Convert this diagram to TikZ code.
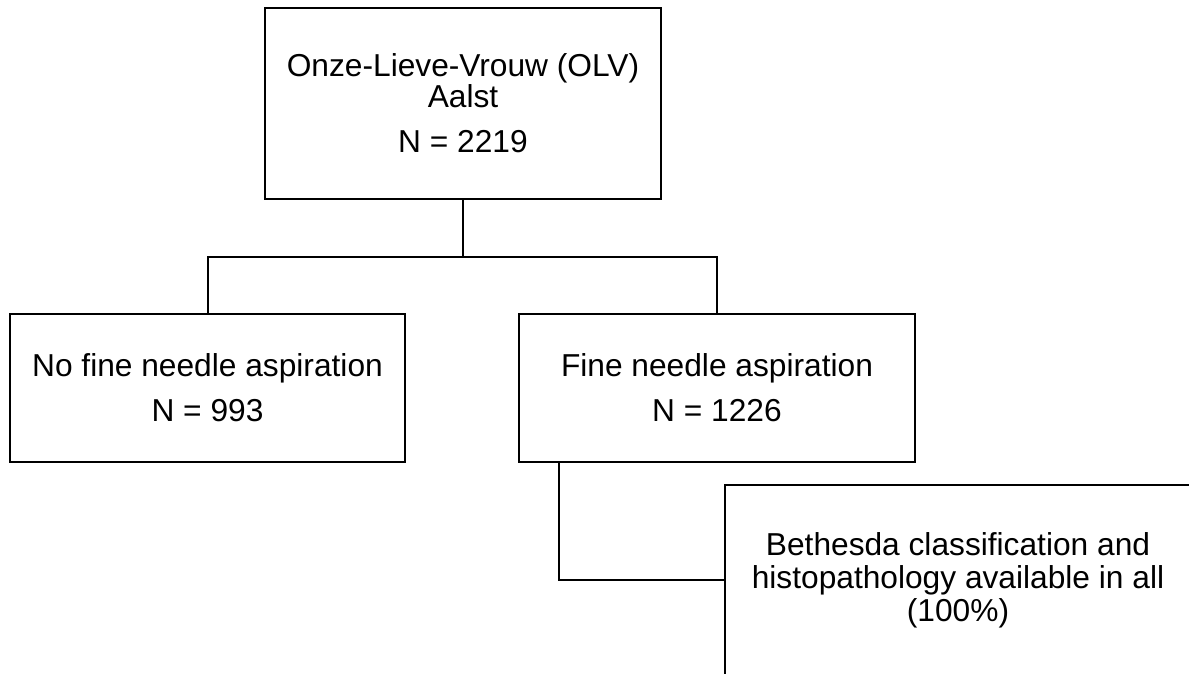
\documentclass[tikz,border=0pt]{standalone}
\usepackage{fontspec}
\setmainfont{Liberation Sans}
\usepackage{tikz}

\begin{document}
\begin{tikzpicture}[x=1pt, y=1pt,
	box/.style={draw, line width=2pt, align=center, inner sep=0pt, font=\fontsize{31.7}{31}\selectfont},
	link/.style={line width=2pt}]
	\useasboundingbox (0,0) rectangle (1189,674);
	\node[box, minimum width=396pt, minimum height=191pt] (olv) at (463,570.5) {Onze-Lieve-Vrouw (OLV)\\Aalst\\[14pt]N = 2219};
	\node[box, minimum width=395pt, minimum height=148pt] (nofna) at (207.5,286) {No fine needle aspiration\\[14pt]N = 993};
	\node[box, minimum width=396pt, minimum height=148pt] (fna) at (717,286) {Fine needle aspiration\\[14pt]N = 1226};
	\node[box, minimum width=466pt, minimum height=190pt] (beth) at (958,94) {Bethesda classification and\\[2pt]histopathology available in all\\[2pt](100\%)};
	\coordinate (split) at ([yshift=-57pt]olv.south);
	\draw[link] (olv.south) -- (split);
	\draw[link] (nofna.north) |- (split) -| (fna.north);
	\draw[link] ([xshift=41pt]fna.south west) |- (beth.west);
\end{tikzpicture}
\end{document}
